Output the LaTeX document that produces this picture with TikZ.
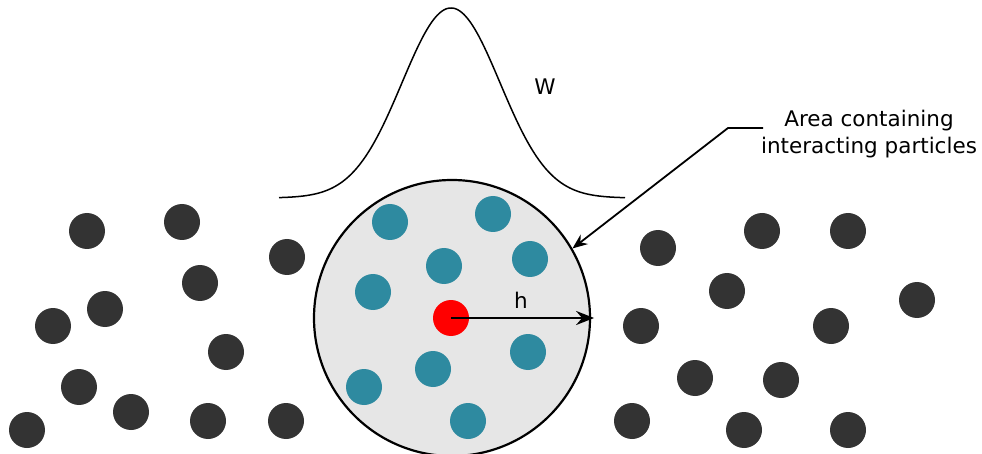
\documentclass[tikz,border=0pt]{standalone}
\usepackage{fontspec}
\setmainfont{DejaVu Sans}
\usetikzlibrary{arrows.meta}
\definecolor{dark}{HTML}{333333}
\definecolor{teal}{HTML}{2E8AA0}
\definecolor{area}{HTML}{E6E6E6}
\begin{document}
\begin{tikzpicture}[x=1pt,y=-1pt,
  dot/.style={circle,fill=dark,inner sep=0pt,minimum size=36pt},
  tdot/.style={circle,fill=teal,inner sep=0pt,minimum size=36pt},
  lbl/.style={font=\fontsize{21.5}{27}\selectfont,inner sep=0pt},
  arr/.style={-{Stealth[length=15pt,width=12pt,inset=5pt]}},
  bigarr/.style={-{Stealth[length=18pt,width=14pt,inset=6pt]}}]
\useasboundingbox (0,0) rectangle (982,454);
% kernel curve
\draw[line width=1.5pt] plot[domain=279:625,samples=200,smooth]
  (\x,{198-190*exp(-((\x-451)/49)^2/2)});
\node[lbl] (w) at (545,87) {W};
% area
\node[circle,draw,line width=2.2pt,fill=area,inner sep=0pt,minimum size=276pt] (big) at (452,318) {};
% teal particles
\foreach \n/\x/\y in {t1/390/222,t2/493/214,t3/444/266,t4/530/259,t5/373/292,t6/528/352,t7/433/369,t8/364/387,t9/468/421}
  \node[tdot] (\n) at (\x,\y) {};
\node[circle,fill=red,inner sep=0pt,minimum size=36pt] (c) at (451,318) {};
\coordinate (hend) at (big.east);
\draw[bigarr,line width=2.4pt] (c.center) -- ([xshift=3pt]hend);
\node[lbl] (h) at (521,300) {h};
% dark particles
\foreach \n/\x/\y in {a1/87/231,a2/182/222,a3/287/257,a4/200/283,a5/105/309,a6/53/326,a7/226/352,a8/79/387,a9/131/412,a10/208/421,a11/286/421,a12/27/430,
  b1/658/248,b2/762/231,b3/848/231,b4/727/291,b5/917/300,b6/641/326,b7/831/326,b8/695/378,b9/781/380,b10/632/421,b11/744/430,b12/848/430}
  \node[dot] (\n) at (\x,\y) {};
% label
\node[lbl,align=center] (lab) at (869,134) {Area containing\\interacting particles};
\coordinate (lstart) at (763,128);
\coordinate (bend) at (728,128);
\draw[arr,line width=1.8pt] (lstart) -- (bend) -- (big.30);
\end{tikzpicture}
\end{document}
